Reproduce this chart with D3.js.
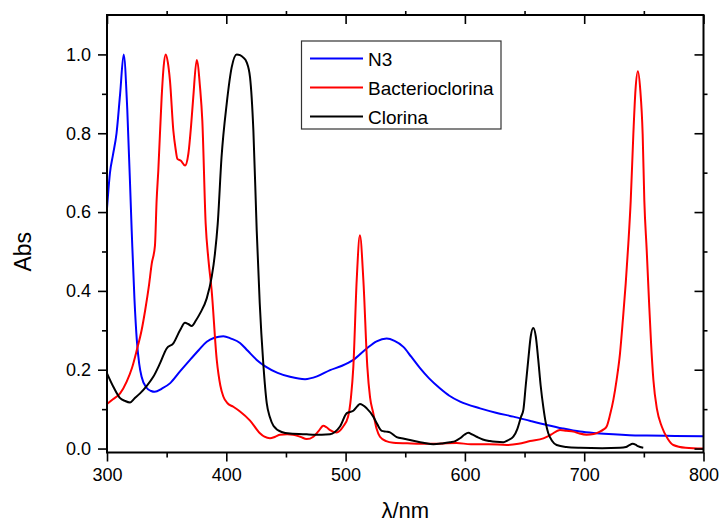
<!DOCTYPE html>
<html>
<head>
<meta charset="utf-8">
<script src="https://cdn.jsdelivr.net/npm/d3@7/dist/d3.min.js"></script>
<style>
  html, body { margin: 0; padding: 0; background: #fff; }
  svg { display: block; font-family: "Liberation Sans", Arial, sans-serif; }
</style>
</head>
<body>
<svg id="chart" width="721" height="524"></svg>
<script>
// Absorption spectra, wavelength (nm) vs normalised absorbance
const seriesNames = ["N3", "Bacterioclorina", "Clorina"];
const seriesColors = ["#0000ff", "#ff0000", "#000000"];

const n3 = [
  [300, 0.609], [302.5, 0.70], [305, 0.745], [308, 0.80], [311, 0.90], [314, 1.0],
  [317, 0.86], [320.7, 0.553], [323, 0.38], [325, 0.275], [327, 0.215], [329, 0.182],
  [333, 0.155], [337, 0.146], [340, 0.144], [346, 0.152], [353, 0.166], [361, 0.195],
  [369.6, 0.225], [377, 0.25], [383.6, 0.271], [390, 0.281], [397.5, 0.285], [404, 0.279],
  [411.5, 0.268], [418, 0.248], [425.5, 0.225], [433, 0.208], [443, 0.192], [453.4, 0.182],
  [466, 0.176], [476, 0.183], [487, 0.199], [497, 0.21], [506.5, 0.225], [517.7, 0.254],
  [526, 0.272], [534.4, 0.279], [541, 0.273], [548.4, 0.258], [555, 0.233], [562.4, 0.204],
  [570, 0.178], [579, 0.153], [587, 0.134], [596, 0.119], [612.7, 0.102], [626, 0.091],
  [640.6, 0.081], [655, 0.070], [668.6, 0.060], [682, 0.051], [696.5, 0.043], [710, 0.039],
  [724.4, 0.036], [738, 0.034], [752.4, 0.033], [776, 0.032], [800, 0.031]
];

const bacterioclorina = [
  [300, 0.113], [305, 0.125], [311, 0.14], [316.5, 0.17], [321, 0.205], [325, 0.25],
  [329, 0.30], [332, 0.351], [335, 0.41], [337.5, 0.469], [340.2, 0.515], [341.6, 0.63],
  [343, 0.705], [345.8, 0.891], [347.5, 0.97], [349.2, 1.0], [351, 0.98], [352.8, 0.933],
  [355.6, 0.807], [357.5, 0.76], [359, 0.735], [362, 0.73], [365.4, 0.718], [368.2, 0.748],
  [370.5, 0.82], [372.3, 0.891], [375.2, 0.986], [378, 0.916], [379.9, 0.832], [382.7, 0.571],
  [385, 0.48], [387.7, 0.402], [392, 0.225], [395, 0.16], [397.5, 0.132], [401, 0.115],
  [405.9, 0.106], [411.5, 0.094], [419.9, 0.071], [428.2, 0.039], [432, 0.03], [436.6, 0.026],
  [441, 0.03], [445, 0.035], [451, 0.036], [456, 0.035], [462, 0.03], [467.4, 0.024],
  [473, 0.030], [477.5, 0.045], [481.3, 0.058], [484, 0.054], [487, 0.047], [492.5, 0.041],
  [498, 0.056], [502, 0.08], [504.5, 0.13], [506.5, 0.208], [509.3, 0.427], [512, 0.541],
  [514.9, 0.427], [518.2, 0.208], [520.5, 0.13], [523.2, 0.090], [526, 0.05], [528.8, 0.030],
  [534, 0.019], [540, 0.015], [555, 0.013], [570, 0.012], [593, 0.014], [605, 0.011],
  [620, 0.011], [635, 0.009], [645, 0.012], [654.6, 0.019], [665.8, 0.026], [672, 0.035],
  [679.7, 0.047], [685, 0.045], [690.9, 0.043], [696, 0.038], [702, 0.035], [708, 0.037],
  [713.2, 0.043], [716, 0.048], [718.8, 0.056], [721.6, 0.085], [724.4, 0.123], [727.2, 0.175],
  [730, 0.241], [732.5, 0.33], [734.8, 0.419], [737, 0.52], [739, 0.629], [741.2, 0.798],
  [743, 0.91], [745, 0.957], [747, 0.91], [749, 0.798], [750.4, 0.629], [752.4, 0.503],
  [754.3, 0.376], [756, 0.27], [758, 0.174], [761, 0.10], [765, 0.056], [770, 0.025],
  [774.7, 0.009], [785, 0.002], [800, 0.0]
];

const clorina = [
  [300, 0.191], [305.3, 0.157], [311, 0.128], [315, 0.121], [319.3, 0.117], [323, 0.127],
  [327.7, 0.140], [333, 0.158], [338.8, 0.182], [344.4, 0.216], [350, 0.254], [355.6, 0.267],
  [361.2, 0.300], [365.4, 0.319], [368, 0.316], [371, 0.311], [374.5, 0.325], [378, 0.343],
  [383.6, 0.381], [387.8, 0.436], [390.5, 0.495], [392.8, 0.57], [396, 0.739], [400.3, 0.874],
  [404.5, 0.967], [408.7, 1.0], [411.5, 0.998], [414.3, 0.992], [417.1, 0.98], [419.9, 0.942],
  [422.7, 0.807], [425.5, 0.553], [428, 0.37], [431, 0.216], [433.9, 0.115], [436.5, 0.08],
  [439.5, 0.058], [446.4, 0.042], [453.4, 0.038], [467.4, 0.036], [480, 0.035], [487, 0.036],
  [491, 0.042], [495.3, 0.056], [501, 0.090], [506.5, 0.096], [510, 0.108], [512, 0.113],
  [517.7, 0.102], [523.2, 0.081], [526.5, 0.062], [530.3, 0.045], [534, 0.043], [537.2, 0.041],
  [542.8, 0.029], [549, 0.025], [556.8, 0.020], [565, 0.015], [573.6, 0.011], [581, 0.013],
  [587.5, 0.016], [592, 0.019], [595.9, 0.026], [599.5, 0.035], [602.9, 0.040], [606, 0.036],
  [609.9, 0.030], [615, 0.023], [621, 0.019], [626, 0.017], [632.2, 0.016], [636, 0.021],
  [640.6, 0.030], [644, 0.05], [647, 0.08], [649, 0.098], [651, 0.16], [653.1, 0.225],
  [655.2, 0.285], [657.3, 0.306], [659.4, 0.285], [661.5, 0.225], [663.5, 0.16], [665.7, 0.106],
  [667.8, 0.065], [669.9, 0.039], [673, 0.02], [676.9, 0.009], [685, 0.004], [696.5, 0.002],
  [715, 0.001], [730, 0.002], [735, 0.004], [737.5, 0.008], [740.6, 0.012], [743, 0.010],
  [745, 0.006], [749.5, 0.002]
];

const xTicks = [300, 400, 500, 600, 700, 800];
const xMinorTicks = [350, 450, 550, 650, 750];
const yTicks = [0.0, 0.2, 0.4, 0.6, 0.8, 1.0];
const yMinorTicks = [0.1, 0.3, 0.5, 0.7, 0.9];

const svg = d3.select("#chart");
const plotLeft = 107, plotRight = 703.5, plotTop = 15, plotBottom = 452.5;

const x = d3.scaleLinear().domain([300, 800]).range([plotLeft, plotRight]);
const y = d3.scaleLinear().domain([-0.01, 1.1]).range([plotBottom, plotTop]);

const tickFont = 18;

// Curves (clipped to the frame)
svg.append("defs").append("clipPath").attr("id", "plotClip")
  .append("rect").attr("x", plotLeft).attr("y", plotTop)
  .attr("width", plotRight - plotLeft).attr("height", plotBottom - plotTop);

const line = d3.line()
  .x(d => x(d[0]))
  .y(d => y(d[1]))
  .curve(d3.curveMonotoneX);

const seriesData = [n3, bacterioclorina, clorina];
const plot = svg.append("g").attr("clip-path", "url(#plotClip)");
seriesData.forEach((data, i) => {
  plot.append("path")
    .datum(data)
    .attr("fill", "none")
    .attr("stroke", seriesColors[i])
    .attr("stroke-width", 2)
    .attr("stroke-linejoin", "round")
    .attr("d", line);
});

// Axes
function styleAxis(g) {
  g.select(".domain").remove();
  g.selectAll(".tick line").attr("stroke", "#000").attr("stroke-width", 1.6);
  g.selectAll(".tick text").attr("fill", "#000").style("font-size", tickFont + "px")
    .style("font-family", "'Liberation Sans', Arial, sans-serif");
}

// bottom: labelled major ticks outward, minor outward
svg.append("g").attr("transform", `translate(0,${plotBottom})`)
  .call(d3.axisBottom(x).tickValues(xTicks).tickSize(9).tickPadding(7).tickFormat(d3.format("d")))
  .call(styleAxis);
svg.append("g").attr("transform", `translate(0,${plotBottom})`)
  .call(d3.axisBottom(x).tickValues(xMinorTicks).tickSize(5).tickFormat(""))
  .call(styleAxis);

// top: major inward, minor outward
svg.append("g").attr("transform", `translate(0,${plotTop})`)
  .call(d3.axisTop(x).tickValues(xTicks).tickSize(-9).tickFormat(""))
  .call(styleAxis);
svg.append("g").attr("transform", `translate(0,${plotTop})`)
  .call(d3.axisTop(x).tickValues(xMinorTicks).tickSize(4).tickFormat(""))
  .call(styleAxis);

// left: labelled major ticks outward, minor outward
svg.append("g").attr("transform", `translate(${plotLeft},0)`)
  .call(d3.axisLeft(y).tickValues(yTicks).tickSize(9).tickPadding(7).tickFormat(d3.format(".1f")))
  .call(styleAxis);
svg.append("g").attr("transform", `translate(${plotLeft},0)`)
  .call(d3.axisLeft(y).tickValues(yMinorTicks).tickSize(5).tickFormat(""))
  .call(styleAxis);

// right: major inward, minor outward
svg.append("g").attr("transform", `translate(${plotRight},0)`)
  .call(d3.axisRight(y).tickValues(yTicks).tickSize(-9).tickFormat(""))
  .call(styleAxis);
svg.append("g").attr("transform", `translate(${plotRight},0)`)
  .call(d3.axisRight(y).tickValues(yMinorTicks).tickSize(4).tickFormat(""))
  .call(styleAxis);

// frame
svg.append("rect")
  .attr("x", plotLeft).attr("y", plotTop)
  .attr("width", plotRight - plotLeft).attr("height", plotBottom - plotTop)
  .attr("fill", "none").attr("stroke", "#000").attr("stroke-width", 2);

// axis titles
svg.append("text")
  .attr("x", (plotLeft + plotRight) / 2).attr("y", 518)
  .attr("text-anchor", "middle")
  .style("font-size", "22px")
  .text("λ/nm");

svg.append("text")
  .attr("transform", `translate(31,${(plotTop + plotBottom) / 2 + 18}) rotate(-90)`)
  .attr("text-anchor", "middle")
  .style("font-size", "23px")
  .text("Abs");

// legend
const legend = svg.append("g");
legend.append("rect")
  .attr("x", 301.5).attr("y", 41).attr("width", 199.5).attr("height", 88)
  .attr("fill", "#fff").attr("stroke", "#333").attr("stroke-width", 1.2);
seriesNames.forEach((name, i) => {
  const ly = 58.5 + i * 29;
  legend.append("line")
    .attr("x1", 310).attr("x2", 363).attr("y1", ly).attr("y2", ly)
    .attr("stroke", seriesColors[i]).attr("stroke-width", 2);
  legend.append("text")
    .attr("x", 368).attr("y", ly + 7)
    .style("font-size", "19px")
    .text(name);
});
</script>
</body>
</html>
